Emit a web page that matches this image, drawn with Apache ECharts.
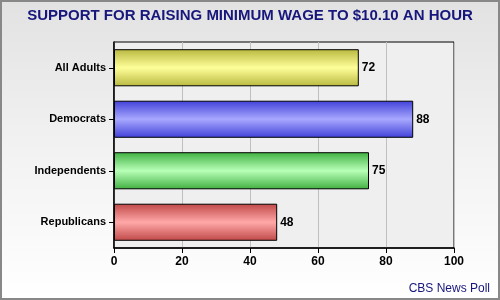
<!DOCTYPE html>
<html><head><meta charset="utf-8">
<script src="https://cdn.jsdelivr.net/npm/echarts@6/dist/echarts.min.js"></script>
<style>html,body{margin:0;padding:0;}#c{width:500px;height:300px;}</style>
</head><body><div id="c"></div>
<script>
const categories = ['All Adults', 'Democrats', 'Independents', 'Republicans'];
const values = [72, 88, 75, 48];
const xTicks = [0, 20, 40, 60, 80, 100];
const barColors = [
  ['#b8b840', '#ffff9a'],
  ['#4040d8', '#a8a8ff'],
  ['#40b040', '#b8ffb8'],
  ['#c04848', '#ffa8a8']
];
function grad(c) {
  return new echarts.graphic.LinearGradient(0, 0, 0, 1, [
    {offset: 0, color: c[0]}, {offset: 0.5, color: c[1]}, {offset: 1, color: c[0]}
  ]);
}
const chart = echarts.init(document.getElementById('c'));
chart.setOption({
  animation: false,
  graphic: [
    {type: 'rect', z: -10, shape: {x: 1, y: 1, width: 498, height: 298},
     style: {fill: new echarts.graphic.LinearGradient(0, 0, 0, 1, [{offset: 0, color: '#e2e2e2'}, {offset: 0.5, color: '#f2f2f2'}, {offset: 1, color: '#ffffff'}]), stroke: '#888888', lineWidth: 2}},
    {type: 'text', left: 'center', top: 8, style: {text: 'SUPPORT FOR RAISING MINIMUM WAGE TO $10.10 AN HOUR', fill: '#16167c', font: 'bold 15px "Liberation Sans", Arial, sans-serif'}},
    {type: 'text', right: 10, top: 283, style: {text: 'CBS News Poll', fill: '#16167c', font: '12px "Liberation Sans", Arial, sans-serif'}}
  ],
  grid: {left: 114, right: 46, top: 42, bottom: 52, show: true, backgroundColor: '#efefef', borderColor: '#000', borderWidth: 1},
  xAxis: {
    type: 'value', min: 0, max: 100, interval: 20,
    axisLine: {show: true, lineStyle: {color: '#000', width: 1.5}},
    axisTick: {show: true, length: 5, lineStyle: {color: '#000'}},
    splitLine: {show: true, lineStyle: {color: '#c0c0c0'}},
    axisLabel: {color: '#000', fontWeight: 'bold', fontSize: 12, fontFamily: 'Liberation Sans, Arial, sans-serif', margin: 8,
      formatter: v => xTicks.includes(v) ? String(v) : ''}
  },
  yAxis: {
    type: 'category', data: categories, inverse: true,
    axisLine: {show: true, lineStyle: {color: '#000', width: 1.5}},
    axisTick: {show: true, length: 5, alignWithLabel: true, lineStyle: {color: '#000'}},
    axisLabel: {color: '#000', fontWeight: 'bold', fontSize: 11, fontFamily: 'Liberation Sans, Arial, sans-serif', margin: 8}
  },
  series: [{
    type: 'bar', barCategoryGap: '28%',
    data: values.map((v, i) => ({value: v, itemStyle: {color: grad(barColors[i])}})),
    itemStyle: {borderColor: '#000', borderWidth: 1},
    label: {show: true, position: 'right', distance: 3, color: '#000', fontWeight: 'bold', fontSize: 12, fontFamily: 'Liberation Sans, Arial, sans-serif'}
  }]
});
</script></body></html>
